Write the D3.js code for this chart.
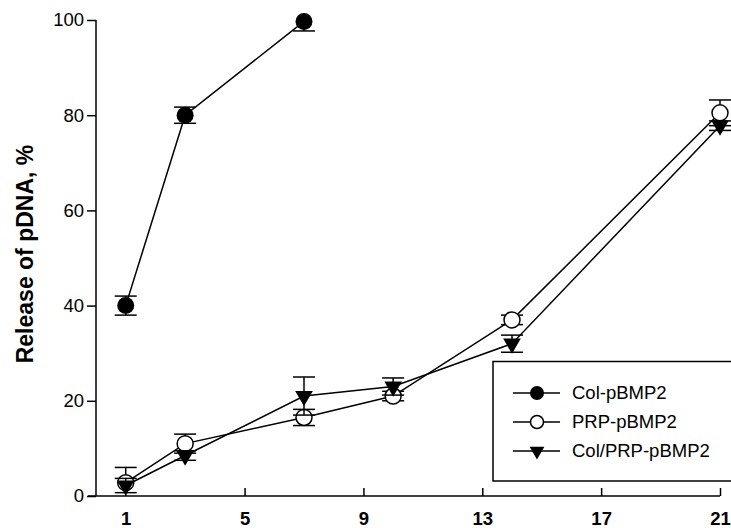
<!DOCTYPE html>
<html>
<head>
<meta charset="utf-8">
<script src="https://cdn.jsdelivr.net/npm/d3@7"></script>
<style>
  body { margin: 0; background: #fff; }
  text { font-family: "Liberation Sans", Arial, sans-serif; }
</style>
</head>
<body>
<div class="canvas"></div>
<script>
// data
const days = [1, 3, 7, 10, 14, 21];
const xTicks = [1, 5, 9, 13, 17, 21];
const yTicks = [0, 20, 40, 60, 80, 100];

const colDays = [1, 3, 7];
const colValues = [40, 80, 99.7];
const colErrors = [2, 1.7, 2];

const prpValues = [2.8, 11, 16.5, 21, 37, 80.5];
const prpErrors = [3.2, 2, 1.7, 1, 1, 2.7];

const mixValues = [2.2, 8.5, 21, 23, 32, 77.8];
const mixErrors = [1.5, 1, 4, 1.8, 1.8, 1];

const seriesNames = ['Col-pBMP2', 'PRP-pBMP2', 'Col/PRP-pBMP2'];

const dimensions = { width: 731, height: 528 };
const plot = { left: 96, right: 720, top: 20, bottom: 496 };

const svg = d3.select('.canvas')
    .append('svg')
    .attr('width', dimensions.width)
    .attr('height', dimensions.height);

const x = d3.scaleLinear().domain([0, 21]).range([plot.left, plot.right]);
const y = d3.scaleLinear().domain([0, 100]).range([plot.bottom, plot.top]);

svg.append('defs').append('clipPath')
    .attr('id', 'clip')
    .append('rect')
    .attr('x', 0).attr('y', plot.top)
    .attr('width', dimensions.width).attr('height', plot.bottom - plot.top);

// axes
const yAxis = svg.append('g')
    .attr('transform', `translate(${plot.left}, 0)`)
    .call(d3.axisLeft(y).tickValues(yTicks).tickSize(9).tickPadding(3));

const xAxis = svg.append('g')
    .attr('transform', `translate(0, ${plot.bottom})`)
    .call(d3.axisBottom(x).tickValues(xTicks).tickSize(-8).tickPadding(16));

[xAxis, yAxis].forEach(ax => {
    ax.select('.domain').attr('stroke', '#000').attr('stroke-width', 1.5);
    ax.selectAll('.tick line').attr('stroke', '#000').attr('stroke-width', 1.5);
    ax.selectAll('.tick text').attr('fill', '#000').attr('font-size', 18.5);
});
xAxis.select('.domain').attr('d', `M${plot.left - 8},0H${plot.right}`);
xAxis.selectAll('.tick text').attr('font-weight', 'bold').attr('dy', '0.71em');
xAxis.selectAll('.tick').filter(d => d === 1).select('line').remove();
yAxis.select('.domain').attr('d', `M0,${plot.bottom}V${plot.top}`);

svg.append('text')
    .attr('transform', 'translate(33, 254) rotate(-90)')
    .attr('text-anchor', 'middle')
    .attr('font-weight', 'bold')
    .attr('font-size', 23)
    .text('Release of pDNA, %');

const line = d3.line().x(d => x(d.day)).y(d => y(d.value));

const toPoints = (ds, vs, es) => ds.map((d, i) => ({ day: d, value: vs[i], err: es[i] }));

const series = [
    { name: seriesNames[0], points: toPoints(colDays, colValues, colErrors), marker: 'filled' },
    { name: seriesNames[1], points: toPoints(days, prpValues, prpErrors), marker: 'open' },
    { name: seriesNames[2], points: toPoints(days, mixValues, mixErrors), marker: 'triangle' }
];

const triangle = d3.symbol(d3.symbolTriangle).size(135);

const drawMarker = (g, type) => {
    if (type === 'filled') {
        g.append('circle').attr('r', 8.5).attr('fill', '#000');
    } else if (type === 'open') {
        g.append('circle').attr('r', 8).attr('fill', '#fff')
            .attr('stroke', '#000').attr('stroke-width', 1.5);
    } else {
        g.append('path').attr('d', triangle())
            .attr('transform', 'rotate(180)')
            .attr('fill', '#000');
    }
};

series.forEach(s => {
    const group = svg.append('g');

    group.append('path')
        .datum(s.points)
        .attr('fill', 'none')
        .attr('stroke', '#000')
        .attr('stroke-width', 1.5)
        .attr('d', line);

    const bars = group.append('g').attr('clip-path', 'url(#clip)')
        .selectAll('g')
        .data(s.points)
        .enter()
        .append('g');

    bars.append('line')
        .attr('x1', d => x(d.day)).attr('x2', d => x(d.day))
        .attr('y1', d => y(d.value - d.err)).attr('y2', d => y(d.value + d.err))
        .attr('stroke', '#000').attr('stroke-width', 1.5);

    [-1, 1].forEach(sign => {
        bars.append('line')
            .attr('x1', d => x(d.day) - 11).attr('x2', d => x(d.day) + 11)
            .attr('y1', d => y(d.value + sign * d.err))
            .attr('y2', d => y(d.value + sign * d.err))
            .attr('stroke', '#000').attr('stroke-width', 1.5);
    });

    group.selectAll('.marker')
        .data(s.points)
        .enter()
        .append('g')
        .attr('class', 'marker')
        .attr('transform', d => `translate(${x(d.day)}, ${y(d.value)})`)
        .each(function () { drawMarker(d3.select(this), s.marker); });
});

// legend
const legend = svg.append('g');
legend.append('rect')
    .attr('x', 493).attr('y', 361.5)
    .attr('width', 260).attr('height', 119.5)
    .attr('fill', '#fff')
    .attr('stroke', '#000').attr('stroke-width', 1.5);

const rows = legend.selectAll('.row')
    .data(series)
    .enter()
    .append('g')
    .attr('class', 'row')
    .attr('transform', (d, i) => `translate(0, ${393 + i * 29})`);

rows.append('line')
    .attr('x1', 513).attr('x2', 560)
    .attr('stroke', '#000').attr('stroke-width', 1.5);

rows.append('g')
    .attr('transform', 'translate(537, 0)')
    .each(function (d) {
        const g = d3.select(this);
        if (d.marker === 'filled') g.append('circle').attr('r', 7).attr('fill', '#000');
        else if (d.marker === 'open') g.append('circle').attr('r', 6.5).attr('fill', '#fff')
            .attr('stroke', '#000').attr('stroke-width', 1.5);
        else g.append('path').attr('d', d3.symbol(d3.symbolTriangle).size(95)())
            .attr('transform', 'rotate(180)').attr('fill', '#000');
    });

rows.append('text')
    .attr('x', 572)
    .attr('dy', '0.35em')
    .attr('font-size', 18.5)
    .text(d => d.name);
</script>
</body>
</html>
